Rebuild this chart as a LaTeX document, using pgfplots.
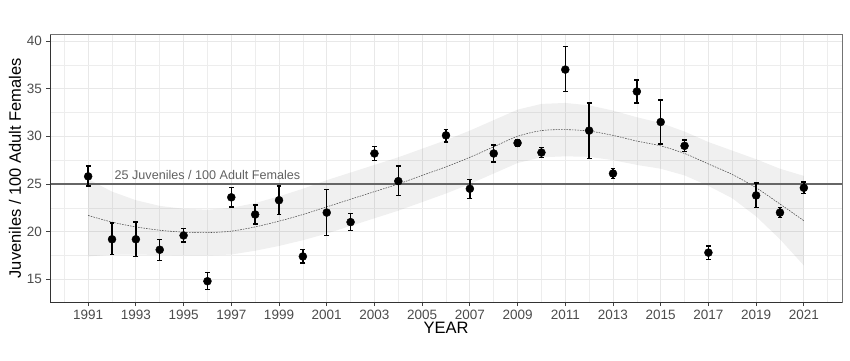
\documentclass[border=0pt]{standalone}
\usepackage{fontspec}
\setmainfont{Liberation Sans}
\usepackage{pgfplots}
\usepackage{pgfplotstable}
\pgfplotsset{compat=1.18}

\pgfplotstableread{
year val ep em
1991 25.8 1.1 1.0
1992 19.2 1.7 1.6
1993 19.2 1.8 1.8
1994 18.1 1.1 1.1
1995 19.6 0.7 0.7
1996 14.8 0.9 0.9
1997 23.6 1.0 1.0
1998 21.8 1.0 1.0
1999 23.3 1.5 1.5
2000 17.4 0.7 0.7
2001 22.0 2.4 2.4
2002 21.0 0.9 0.9
2003 28.2 0.7 0.7
2004 25.3 1.6 1.5
2006 30.1 0.6 0.7
2007 24.5 1.0 1.0
2008 28.2 0.9 0.9
2009 29.3 0.4 0.4
2010 28.3 0.55 0.5
2011 37.0 2.4 2.3
2012 30.6 2.9 2.9
2013 26.1 0.5 0.5
2014 34.7 1.2 1.2
2015 31.5 2.3 2.3
2016 29.0 0.6 0.6
2017 17.8 0.7 0.7
2019 23.8 1.3 1.3
2020 22.0 0.5 0.5
2021 24.6 0.6 0.6
}\obsdata

\pgfplotstableread{
year fit
1991 21.70
1992 21.00
1993 20.50
1994 20.15
1995 19.95
1996 19.90
1997 20.05
1998 20.50
1999 21.10
2000 21.80
2001 22.60
2002 23.40
2003 24.20
2004 25.00
2005 25.90
2006 26.80
2007 27.80
2008 28.90
2009 30.00
2010 30.60
2011 30.70
2012 30.55
2013 30.10
2014 29.50
2015 29.00
2016 28.20
2017 27.10
2018 26.00
2019 24.60
2020 22.90
2021 21.15
}\fitdata

\begin{document}
\begin{tikzpicture}
\begin{axis}[
  scale only axis,
  width=792pt, height=267.5pt,
  at={(50pt,58pt)}, anchor=south west,
  xmin=1989.4, xmax=2022.6,
  ymin=12.62, ymax=40.68,
  xtick={1991,1993,...,2021},
  minor xtick={1990,1992,...,2022},
  ytick={15,20,...,40},
  minor ytick={12.5,17.5,...,37.5},
  grid=both,
  major grid style={draw=black!9, line width=0.9pt},
  minor grid style={draw=black!7, line width=0.6pt},
  tick align=outside, tick pos=left,
  major tick length=4pt, minor tick length=0pt,
  tick style={black!75, line width=0.8pt},
  axis line style={draw=black!55, line width=0.9pt},
  /pgf/number format/assume math mode=true,
  /pgf/number format/1000 sep={},
  ticklabel style={font=\fontsize{13.5}{15}\selectfont, text=black!70},
  xticklabel style={yshift=-1pt},
  yticklabel style={xshift=-0.5pt},
  xlabel={YEAR},
  ylabel={Juveniles / 100 Adult Females},
  label style={font=\fontsize{16.5}{18}\selectfont},
  xlabel style={at={(axis description cs:0.5,-0.0972)}, anchor=center},
  ylabel style={at={(axis description cs:-0.0442,0.5)}, anchor=center},
]
% confidence ribbon: upper edge 1991->2021, then lower edge 2021->1991
\addplot[fill=black, fill opacity=0.06, draw=none] coordinates {
(1991,25.50) (1992,24.20) (1993,23.30) (1994,22.70) (1995,22.40) (1996,22.30)
(1997,22.50) (1998,23.00) (1999,23.70) (2000,24.50) (2001,25.40) (2002,26.20)
(2003,27.00) (2004,27.80) (2005,28.70) (2006,29.60) (2007,30.60) (2008,31.70)
(2009,32.80) (2010,33.40) (2011,33.50) (2012,33.25) (2013,32.70) (2014,32.00)
(2015,31.40) (2016,30.50) (2017,29.40) (2018,28.50) (2019,27.60) (2020,26.60)
(2021,25.85)
(2021,16.45) (2020,19.20) (2019,21.60) (2018,23.50) (2017,24.80) (2016,25.90)
(2015,26.60) (2014,27.00) (2013,27.50) (2012,27.85) (2011,27.90) (2010,27.80)
(2009,27.20) (2008,26.10) (2007,25.00) (2006,24.00) (2005,23.10) (2004,22.20)
(2003,21.40) (2002,20.60) (2001,19.80) (2000,19.10) (1999,18.50) (1998,18.00)
(1997,17.60) (1996,17.50) (1995,17.50) (1994,17.55) (1993,17.60) (1992,17.60)
(1991,17.40)
} -- cycle;

\addplot[black!60, line width=1.3pt] coordinates {(1989.4,25) (2022.6,25)};
\node[text=black!62, font=\fontsize{12.6}{14}\selectfont] at (axis cs:1996,25.95) {25 Juveniles / 100 Adult Females};

\addplot[smooth, black!70, line width=0.55pt, dash pattern=on 1.6pt off 1.1pt] table[x=year, y=fit] {\fitdata};

\addplot[only marks, mark=*, mark size=4pt, black,
  error bars/.cd, y dir=both, y explicit,
  error bar style={line width=1.4pt, black},
  error mark options={rotate=90, mark size=2.4pt, line width=1.3pt, black}]
  table[x=year, y=val, y error plus=ep, y error minus=em] {\obsdata};

\draw[black!80, line width=1pt] (rel axis cs:0,1) -- (rel axis cs:0,0) -- (rel axis cs:1,0);
\end{axis}
\pgfresetboundingbox
\useasboundingbox (0,0) rectangle (850pt,360pt);
\end{tikzpicture}
\end{document}
